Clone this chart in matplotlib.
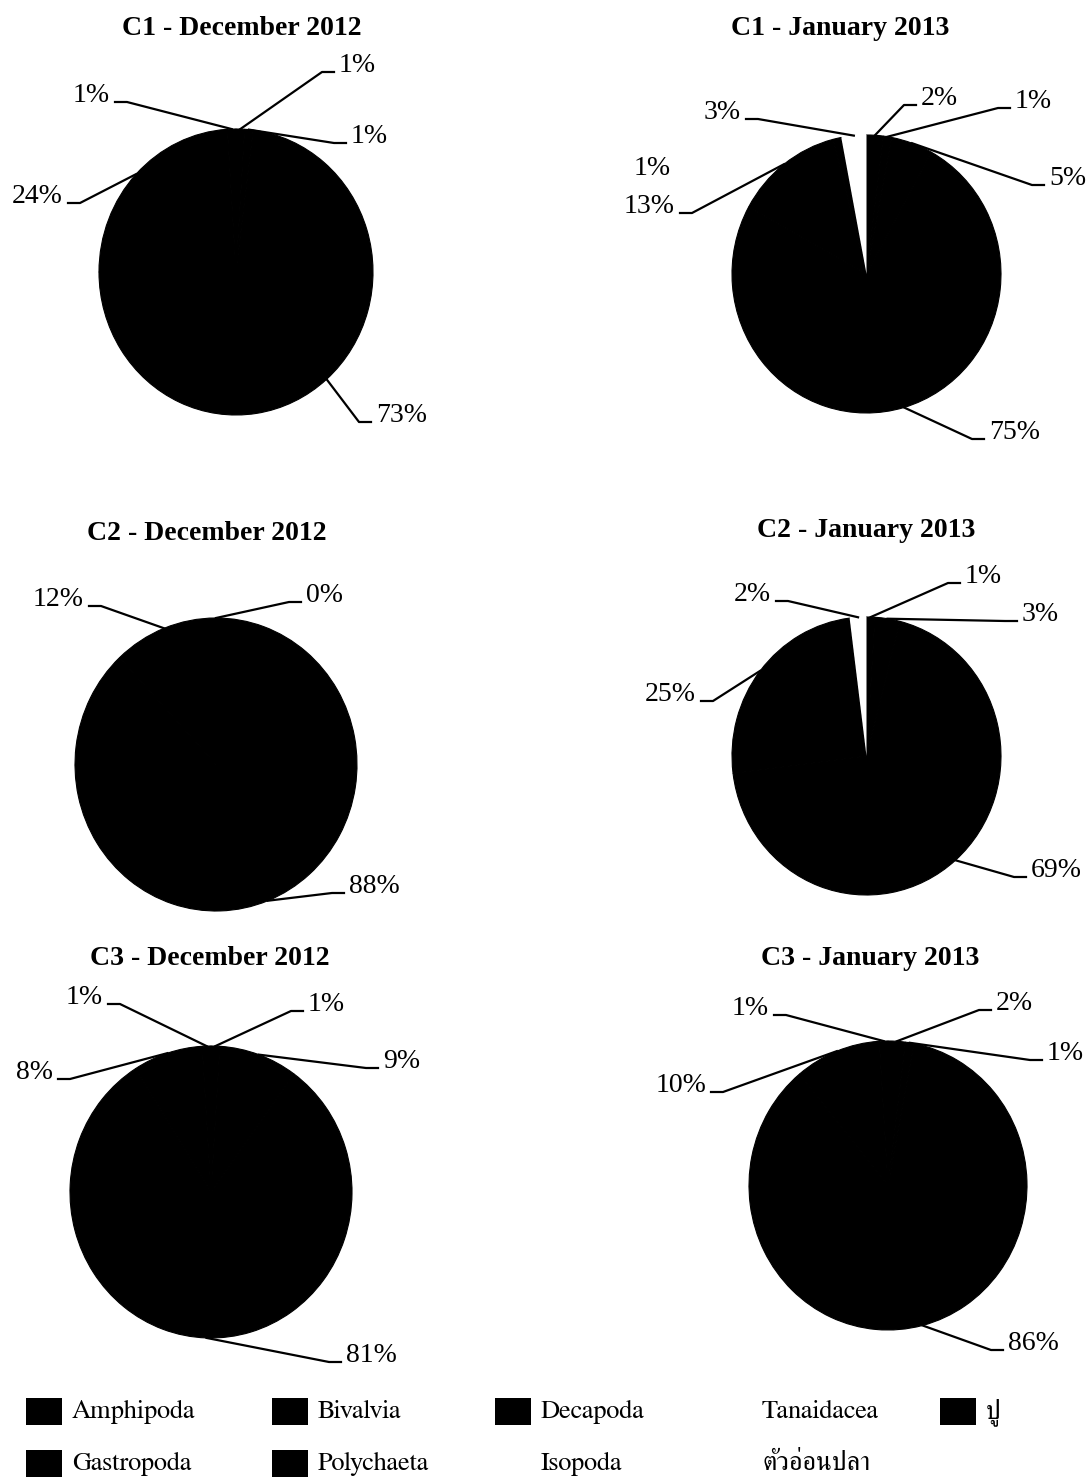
import numpy as np
import matplotlib
matplotlib.use("Agg")
import matplotlib.pyplot as plt
from matplotlib.patches import Rectangle

W, H = 1090, 1482

# slice order of every pie (clockwise from 12 o'clock)
categories = ["Amphipoda", "Gastropoda", "Bivalvia", "Polychaeta", "Decapoda",
              "ปู", "Isopoda", "Tanaidacea", "ตัวอ่อนปลา"]
# the last three groups are printed white
colors = ["black"] * 6 + ["white"] * 3

# percent composition per station / month (None = group not found)
c1_dec = [1, None, 1, 73, 24, 1, None, None, None]
c1_jan = [2, 1, 5, 75, 13, 1, None, 3, None]
c2_dec = [None, None, 0, 88, 12, None, None, None, None]
c2_jan = [None, 1, 3, 69, 25, None, 2, None, None]
c3_dec = [None, 1, 9, 81, 8, 1, None, None, None]
c3_jan = [None, 2, 1, 86, 10, 1, None, None, None]

titles = ["C1 - December 2012", "C1 - January 2013",
          "C2 - December 2012", "C2 - January 2013",
          "C3 - December 2012", "C3 - January 2013"]

legend_order = ["Amphipoda", "Gastropoda", "Bivalvia", "Polychaeta", "Decapoda",
                "Isopoda", "Tanaidacea", "ตัวอ่อนปลา", "ปู"]

# pixel layout: pie centre, x/y radius, title centre + baseline,
# and the outer end of each leader line (x, y, draw_leader)
layout = [
    dict(c=(236, 272), r=(137, 143), t=(242, 35),
         ends=[(334, 72, True), (346, 143, True), (371, 422, True),
               (68, 203, True), (115, 102, True)]),
    dict(c=(866.5, 274), r=(134.5, 139), t=(840, 35),
         ends=[(916, 105, True), (1010, 108, True), (1044, 185, True),
               (984, 439, True), (680, 213, True), (676, 175, False),
               (746, 119, True)]),
    dict(c=(216, 764.5), r=(141, 146.5), t=(207, 540),
         ends=[(301, 602, True), (344, 893, True), (89, 606, True)]),
    dict(c=(866.5, 756), r=(134.5, 139), t=(866, 537),
         ends=[(960, 583, True), (1017, 621, True), (1026, 877, True),
               (701, 701, True), (776, 601, True)]),
    dict(c=(211, 1192), r=(141, 146), t=(210, 965),
         ends=[(303, 1011, True), (378, 1068, True), (341, 1362, True),
               (58, 1079, True), (108, 1004, True)]),
    dict(c=(888, 1185.5), r=(139, 144.5), t=(870, 965),
         ends=[(991, 1010, True), (1042, 1060, True), (1003, 1350, True),
               (711, 1092, True), (774, 1015, True)]),
]

fig = plt.figure(figsize=(W / 100, H / 100), dpi=100)
serif = "Liberation Serif"


def draw_pie(values, title, lay):
    cx, cy = lay["c"]
    rx, ry = lay["r"]
    ax = fig.add_axes([(cx - rx) / W, 1 - (cy + ry) / H, 2 * rx / W, 2 * ry / H])
    vals = [v for v in values if v is not None]
    cols = [c for v, c in zip(values, colors) if v is not None]
    wedges, _ = ax.pie(vals, colors=cols, startangle=90, counterclock=False,
                       wedgeprops=dict(linewidth=0))
    # black outline on dark slices hides the anti-aliasing seams between them
    for w, c in zip(wedges, cols):
        if c == "black":
            w.set_edgecolor("black")
            w.set_linewidth(0.8)
    ax.set_aspect("auto")
    ax.set_xlim(-1, 1)
    ax.set_ylim(-1, 1)
    ax.set_axis_off()

    for w, v, (x, y, leader) in zip(wedges, vals, lay["ends"]):
        mid = np.deg2rad((w.theta1 + w.theta2) / 2)
        ex, ey = (x - cx) / rx, (cy - y) / ry
        right = x > cx
        if leader:
            elbow = ex - 12 / rx if right else ex + 12 / rx
            ax.plot([np.cos(mid), elbow, ex], [np.sin(mid), ey, ey],
                    color="black", lw=1.6, clip_on=False)
        tx = ex + 5 / rx if right else ex - 5 / rx
        ax.text(tx, ey, f"{v}%", ha="left" if right else "right", va="baseline",
                fontsize=20, family=serif, clip_on=False)

    fig.text(lay["t"][0] / W, 1 - lay["t"][1] / H, title, ha="center",
             va="baseline", fontsize=20, fontweight="bold", family=serif)


for vals, title, lay in zip([c1_dec, c1_jan, c2_dec, c2_jan, c3_dec, c3_jan],
                            titles, layout):
    draw_pie(vals, title, lay)

# legend, two rows filled column by column
col_x = [26, 272, 495, 716, 940]
row_y = [1398, 1450]
for i, name in enumerate(legend_order):
    x, y = col_x[i // 2], row_y[i % 2]
    fc = colors[categories.index(name)]
    fig.patches.append(Rectangle((x / W, 1 - (y + 27) / H), 36 / W, 27 / H,
                                 facecolor=fc, edgecolor="none",
                                 transform=fig.transFigure, figure=fig))
    fig.text((x + 46) / W, 1 - (y + 20) / H, name, ha="left", va="baseline",
             fontsize=19, family="FreeSerif")

fig.savefig("out.png", dpi=100)
